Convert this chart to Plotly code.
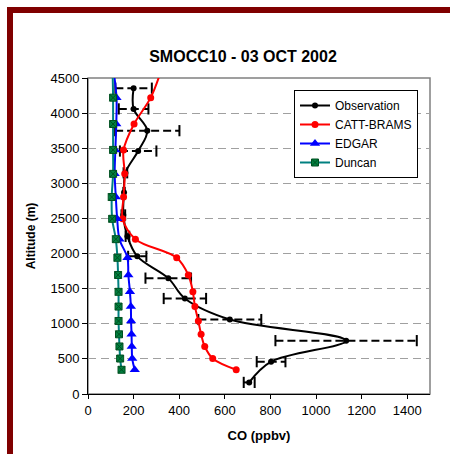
import plotly.graph_objects as go

# Observation profile (aircraft)
obs_alt = [165, 460, 760, 1060, 1360, 1650, 1960, 2245, 2550, 2870, 3150, 3460, 3750, 4060, 4355]
obs_co = [707, 803, 1132, 622, 425, 352, 216, 173, 155, 158, 164, 220, 260, 200, 200]
obs_err = [24, 63, 310, 138, 93, 100, 40, 8, 8, 3, 8, 80, 141, 65, 80]

# Model levels and profiles
mod_alt = [345, 505, 677, 850, 1040, 1245, 1455, 1695, 1940, 2205, 2495, 2805, 3135, 3476, 3845, 4220, 4580]
catt_co = [650, 547, 512, 496, 484, 469, 460, 440, 389, 208, 152, 156, 161, 156, 202, 275, 318]
edgar_co = [205, 194, 192, 191, 189, 188, 184, 177, 173, 138, 128, 122, 117, 120, 124, 125, 113]
duncan_co = [147, 141, 138, 136, 134, 134, 134, 132, 129, 122, 106, 104, 110, 110, 110, 110, 108]

x_ticks = [0, 200, 400, 600, 800, 1000, 1200, 1400]
y_ticks = [0, 500, 1000, 1500, 2000, 2500, 3000, 3500, 4000, 4500]

FONT = "Liberation Sans, Arial, sans-serif"
W, H = 450, 454
L, R, T, B = 88, 20, 78, 60
PW, PH = W - L - R, H - T - B

fig = go.Figure()

# dashed horizontal error bars for the observations
ex, ey, cx, cy = [], [], [], []
for v, a, e in zip(obs_co, obs_alt, obs_err):
    ex += [v - e, v + e, None]
    ey += [a, a, None]
    cx += [v - e, v + e]
    cy += [a, a]
fig.add_trace(go.Scatter(x=ex, y=ey, mode='lines', showlegend=False, hoverinfo='skip',
                         line=dict(color='black', width=2, dash='8px,4px')))
fig.add_trace(go.Scatter(x=cx, y=cy, mode='markers', showlegend=False, hoverinfo='skip',
                         marker=dict(symbol='line-ns', size=8, line=dict(color='black', width=2))))

fig.add_trace(go.Scatter(x=obs_co, y=obs_alt, mode='lines+markers', name='Observation',
                         line=dict(color='black', width=2, shape='spline'),
                         marker=dict(symbol='circle', size=6, color='black')))
fig.add_trace(go.Scatter(x=catt_co, y=mod_alt, mode='lines+markers', name='CATT-BRAMS',
                         line=dict(color='#FF0000', width=2, shape='spline'),
                         marker=dict(symbol='circle', size=7, color='#FF0000')))
fig.add_trace(go.Scatter(x=edgar_co, y=mod_alt, mode='lines+markers', name='EDGAR',
                         line=dict(color='#0000FF', width=2, shape='spline'),
                         marker=dict(symbol='triangle-up', size=9, color='#0000FF')))
fig.add_trace(go.Scatter(x=duncan_co, y=mod_alt, mode='lines+markers', name='Duncan',
                         line=dict(color='#008080', width=2, shape='spline'),
                         marker=dict(symbol='square-x', size=7, color='#008040',
                                     line=dict(color='#005020', width=1))))

def px_x(p):
    return (p - L) / PW

def px_y(p):
    return (H - B - p) / PH

shapes = [
    # grey plot-area border
    dict(type='rect', xref='paper', yref='paper', x0=0, x1=1, y0=0, y1=1,
         line=dict(color='#808080', width=1.5), layer='below'),
    # dark red frame (left and top)
    dict(type='rect', xref='paper', yref='paper', x0=px_x(7), x1=px_x(13), y0=px_y(460), y1=px_y(7),
         fillcolor='#800000', line=dict(width=0)),
    dict(type='rect', xref='paper', yref='paper', x0=px_x(7), x1=px_x(452), y0=px_y(13), y1=px_y(7),
         fillcolor='#800000', line=dict(width=0)),
]

fig.update_layout(
    width=W, height=H,
    margin=dict(l=L, r=R, t=T, b=B),
    paper_bgcolor='white', plot_bgcolor='white',
    font=dict(family=FONT, color='black', size=13),
    title=dict(text='<b>SMOCC10 - 03 OCT 2002</b>', x=px_x(243), xref='paper', xanchor='center',
               y=1 - 56 / H, yanchor='middle', font=dict(size=16, family=FONT)),
    shapes=shapes,
    legend=dict(x=px_x(294), y=px_y(90), xanchor='left', yanchor='top',
                bgcolor='white', bordercolor='black', borderwidth=1,
                font=dict(size=12, family=FONT), tracegroupgap=0),
)

fig.update_xaxes(range=[0, 1500], tickvals=x_ticks, showgrid=False, zeroline=False,
                 showline=True, linecolor='black', linewidth=1, automargin=False,
                 ticks='outside', ticklen=4, tickcolor='black',
                 tickfont=dict(size=13),
                 title=dict(text='<b>CO (ppbv)</b>', font=dict(size=13), standoff=14))
fig.update_yaxes(range=[0, 4500], tickvals=y_ticks, showgrid=True, gridcolor='#A0A0A0',
                 griddash='8px,5px', gridwidth=1, zeroline=False,
                 showline=True, linecolor='black', linewidth=1, automargin=False,
                 ticks='outside', ticklen=5, tickcolor='black',
                 tickfont=dict(size=13),
                 title=dict(text='<b>Altitude (m)</b>', font=dict(size=12), standoff=12))

fig.write_html("out.html", config={'displayModeBar': False},
               post_script="document.body.style.margin='0';")
